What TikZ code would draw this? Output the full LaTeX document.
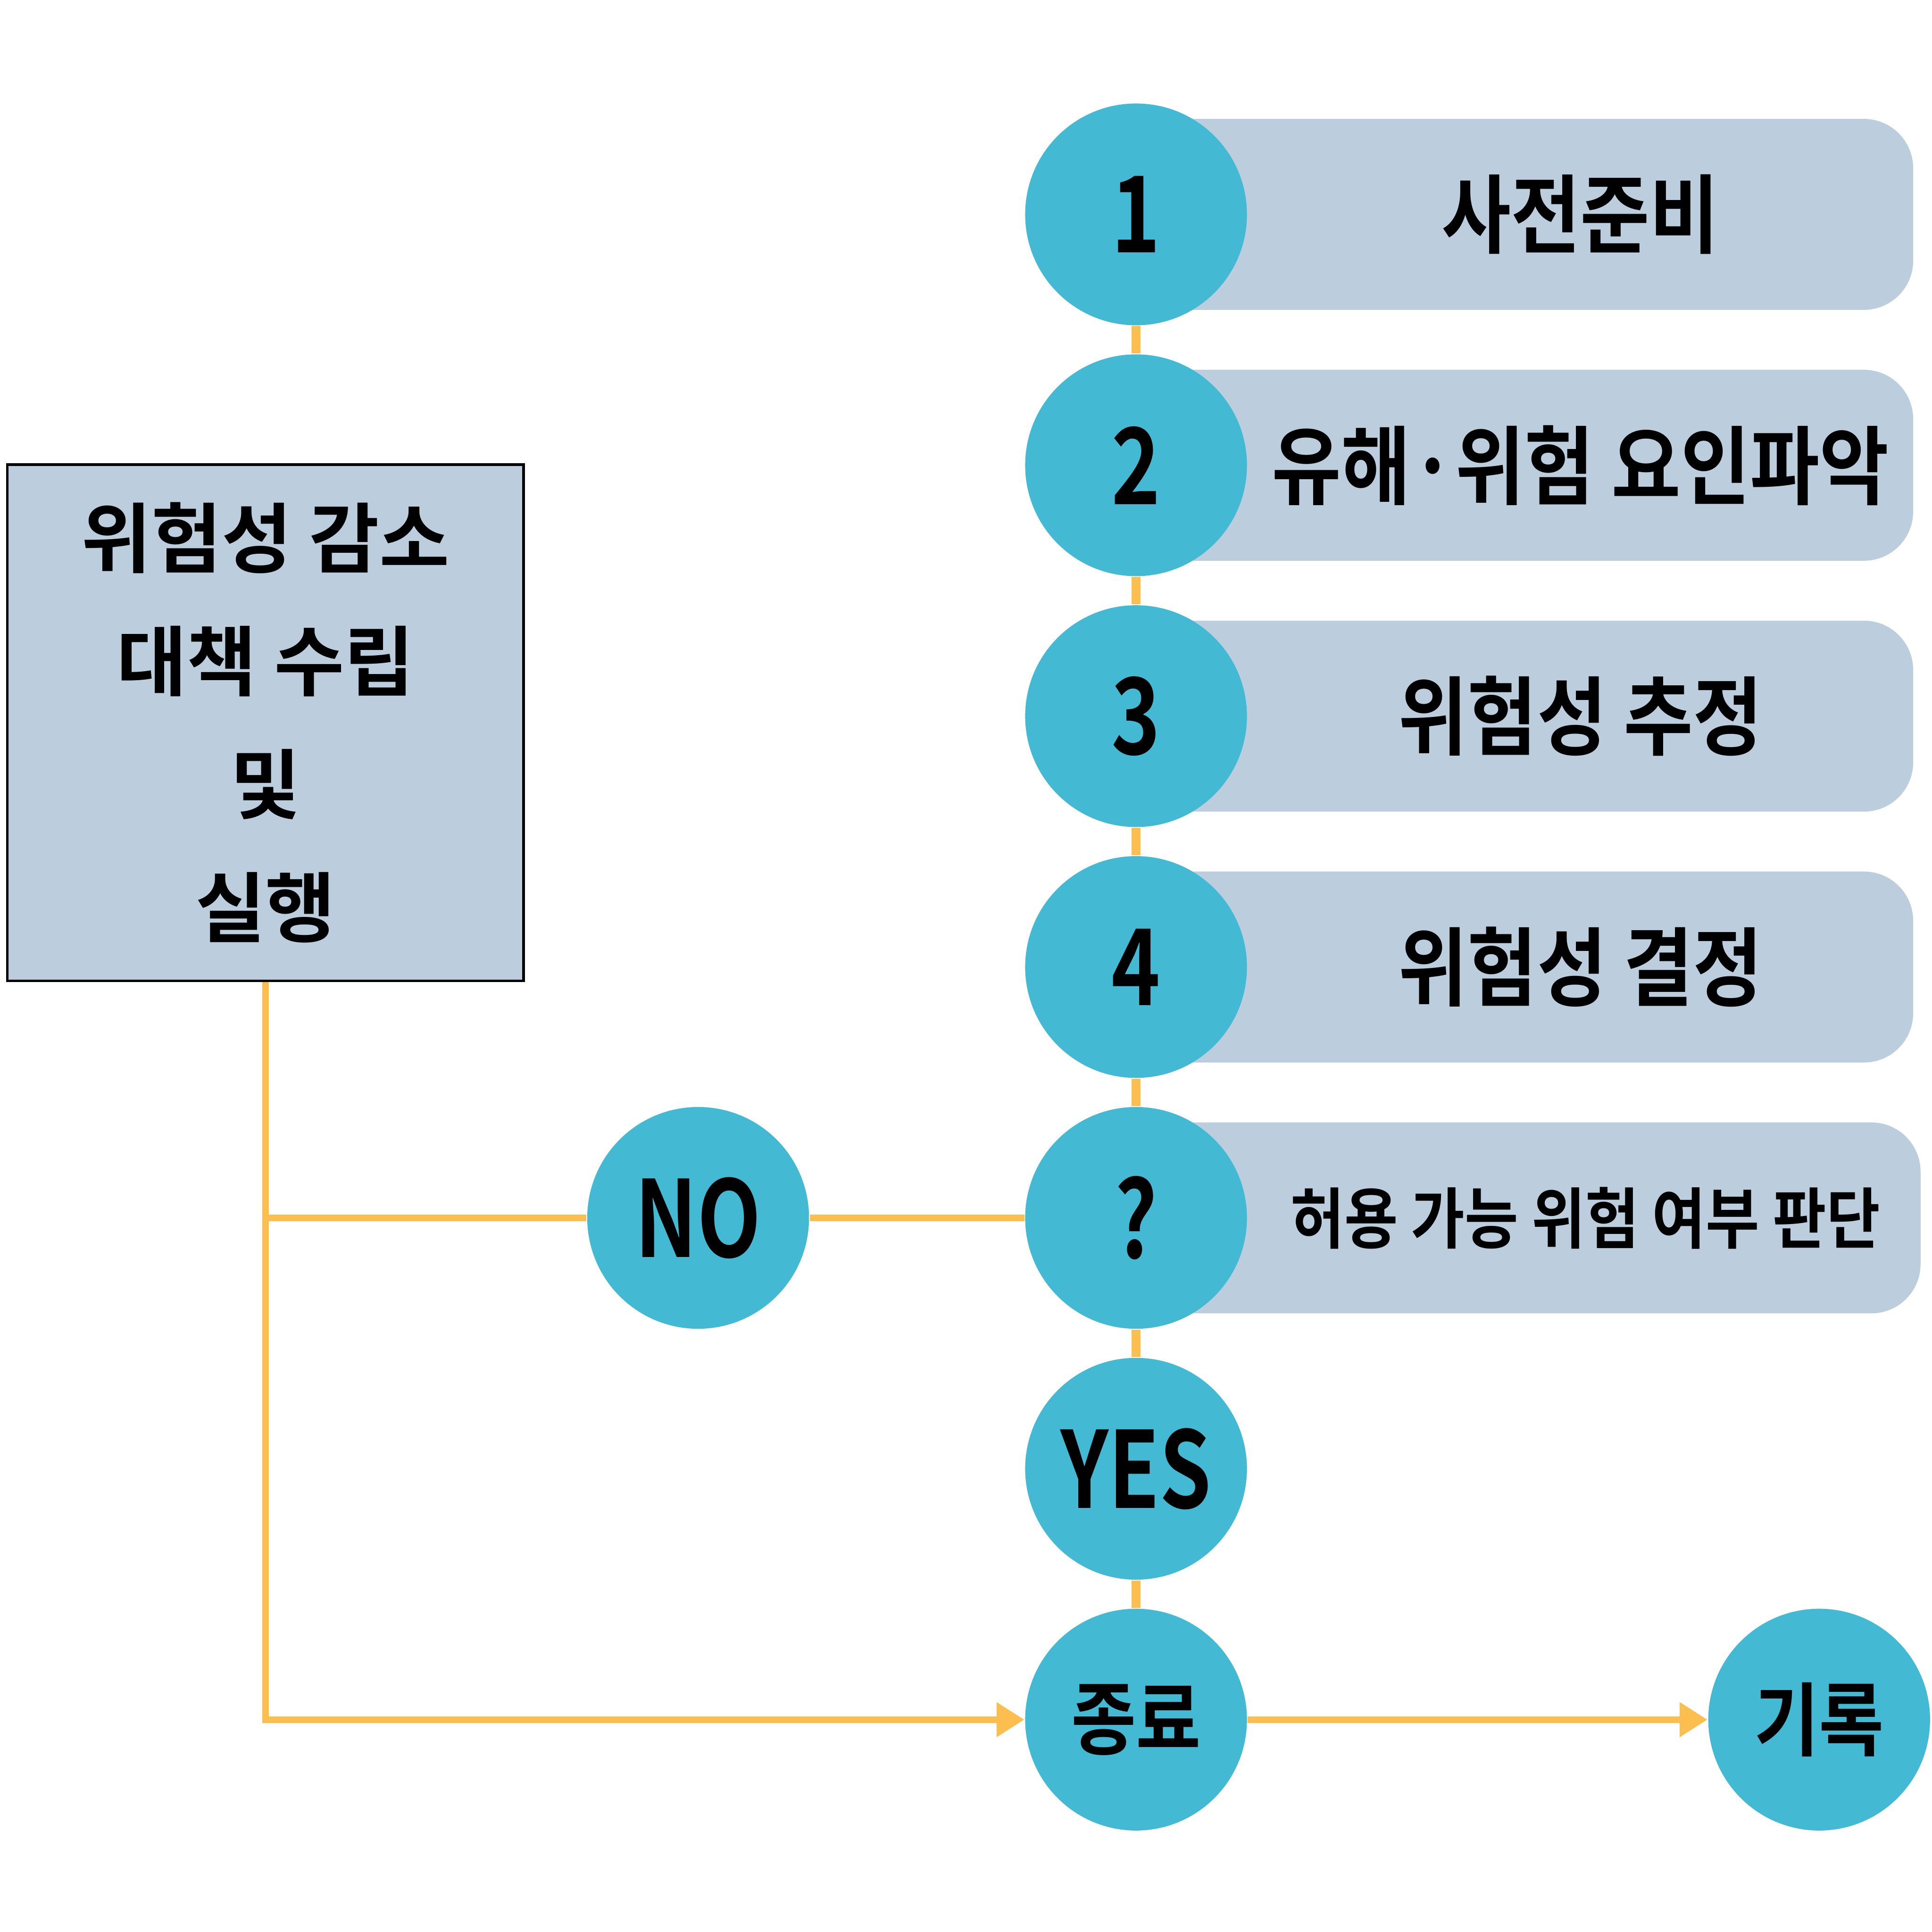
\documentclass[tikz,border=0pt]{standalone}
\usepackage{fontspec}
\usetikzlibrary{positioning,arrows.meta,backgrounds}

\newfontfamily\krfont{Noto Sans CJK KR Bold}
\newfontfamily\barfont[FakeStretch=0.88]{Noto Sans CJK KR Bold}
\newfontfamily\numfont[FakeStretch=0.78]{Noto Sans CJK KR Bold}

\definecolor{stepcyan}{HTML}{44B9D4}
\definecolor{barblue}{HTML}{BCCEDE}
\definecolor{lineorange}{HTML}{FDBE50}

\tikzset{
  dot/.style={circle, fill=stepcyan, minimum size=1.8cm, inner sep=0pt},
  bar/.style={rectangle, rounded corners=0.4cm, fill=barblue, minimum height=1.55cm, anchor=west},
  numtext/.style={font=\numfont\fontsize{24.5pt}{24.5pt}\selectfont},
  kortext/.style={font=\barfont\fontsize{18.5pt}{18.5pt}\selectfont},
  bartext/.style={font=\barfont\fontsize{19.8pt}{19.8pt}\selectfont},
  asktext/.style={font=\barfont\fontsize{15.3pt}{15.3pt}\selectfont},
  link/.style={draw=lineorange, line width=2.1pt},
  flow/.style={draw=lineorange, line width=1.5pt},
  arr/.style={flow, -{Triangle[length=2.25mm, width=2.7mm]}}
}

\begin{document}
\begin{tikzpicture}
  \useasboundingbox (0,0) rectangle (15.68,-15.68);

  % Nodes
  \node[dot, numtext] (s1) at (9.22,-1.74) {1};
  \node[dot, numtext, below=0.222cm of s1] (s2) {2};
  \node[dot, numtext, below=0.222cm of s2] (s3) {3};
  \node[dot, numtext, below=0.222cm of s3] (s4) {4};
  \node[dot, numtext, below=0.222cm of s4] (ask) {?};
  \node[dot, numtext, below=0.222cm of ask] (yes) {YES};
  \node[dot, kortext, below=0.222cm of yes] (end) {종료};
  \node[dot, kortext, right=3.73cm of end] (rec) {기록};
  \node[dot, numtext, left=1.74cm of ask] (no) {NO};
  \node[draw=black, fill=barblue, line width=0.6pt, minimum size=4.19cm, align=center,
        font=\krfont\fontsize{17.6pt}{28.45pt}\selectfont] (plan) at (2.155,-5.865)
        {위험성 감소\\대책 수립\\및\\실행};

  % Bars
  \begin{scope}[on background layer]
    \foreach \s/\txt in {s1/사전준비, s2/{유해·위험 요인파악}, s3/{위험성 추정}, s4/{위험성 결정}}
      \node[bar, minimum width=6.3cm, label={[bartext, xshift=4.5mm]center:\txt}] at (\s.center) {};
    \node[bar, minimum width=6.36cm, label={[asktext, xshift=4.6mm]center:허용 가능 위험 여부 판단}] at (ask.center) {};
  \end{scope}

  % Edges
  \foreach \a/\b in {s1/s2, s2/s3, s3/s4, s4/ask, ask/yes, yes/end}
    \draw[link] (\a) -- (\b);
  \draw[arr] (plan.south) |- (end.west);
  \draw[flow] (plan.south |- no) -- (no);
  \draw[flow] (no) -- (ask);
  \draw[arr] (end) -- (rec);
\end{tikzpicture}
\end{document}
